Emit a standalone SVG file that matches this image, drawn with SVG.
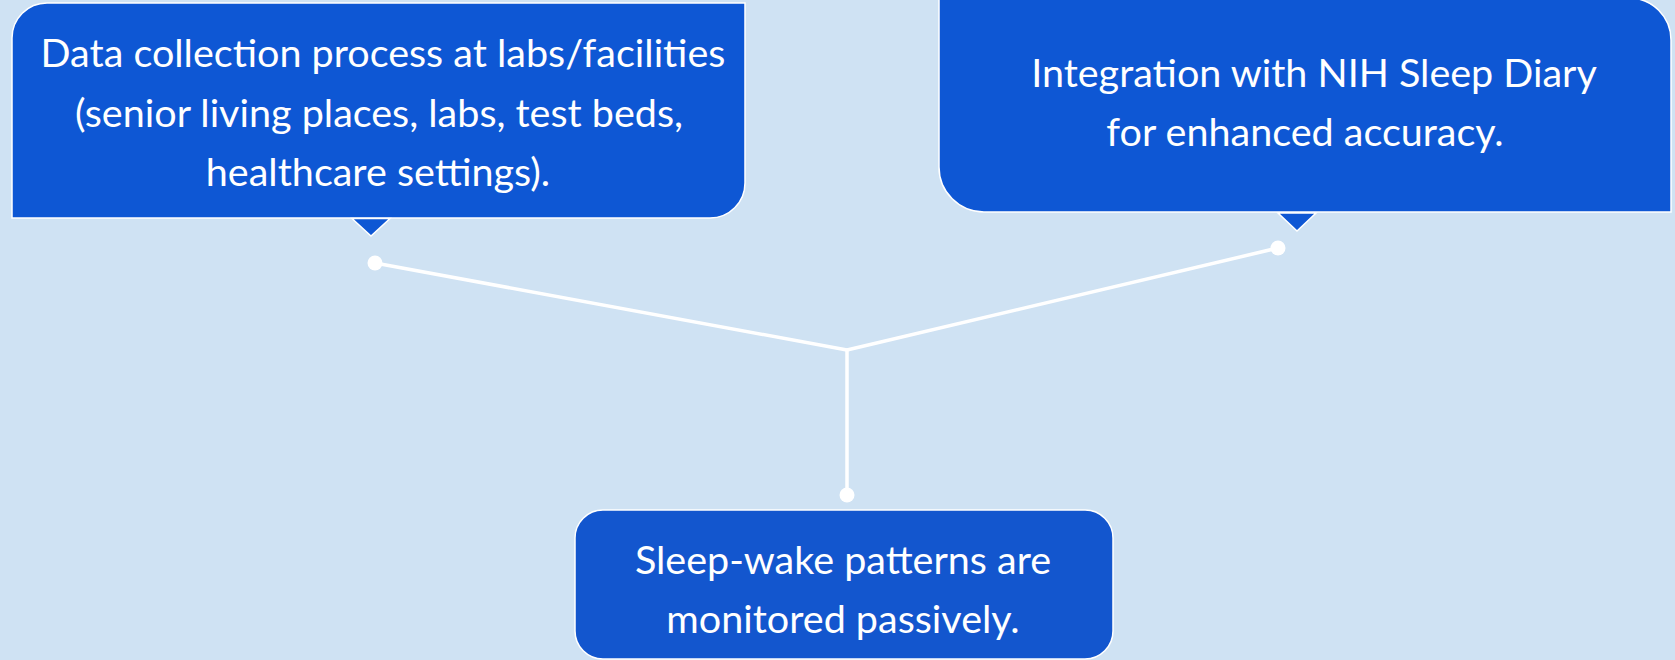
<svg xmlns="http://www.w3.org/2000/svg" width="1675" height="660" viewBox="0 0 1675 660">
  <style>
    .box { fill: #0E57D4; stroke: #FFFFFF; stroke-width: 1.5; }
    .box3 { fill: #1356CE; stroke: #FFFFFF; stroke-width: 1.5; }
    .ptr { fill: #0E57D4; stroke: #FFFFFF; stroke-width: 1.5; }
    .lbl { font-family: Lato, "Liberation Sans", sans-serif; font-size: 39.5px; fill: #FFFFFF; text-anchor: middle; }
    .conn { stroke: #FFFFFF; stroke-width: 3.5; fill: none; stroke-linecap: round; stroke-linejoin: round; }
    .dot { fill: #FFFFFF; }
  </style>
  <rect x="0" y="0" width="1675" height="660" fill="#CFE2F3"/>

  <g id="connectors">
    <polyline class="conn" points="375,263 847,350 1278,248"/>
    <line class="conn" x1="847" y1="350" x2="847" y2="495"/>
    <circle class="dot" cx="375" cy="263" r="7.5"/>
    <circle class="dot" cx="1278" cy="248" r="7.5"/>
    <circle class="dot" cx="847" cy="495" r="7.5"/>
  </g>

  <g id="node-data-collection">
    <path class="box" d="M12,218 L12,38 A35,35 0 0 1 47,3 L745,3 L745,183 A35,35 0 0 1 710,218 Z"/>
    <polygon class="ptr" points="352,218.5 390,218.5 371,236"/>
    <text class="lbl" x="383" y="67">Data collection process at labs/facilities</text>
    <text class="lbl" x="379" y="127">(senior living places, labs, test beds,</text>
    <text class="lbl" x="378" y="186">healthcare settings).</text>
  </g>

  <g id="node-nih-diary">
    <path class="box" d="M939,-2 L1629,-2 A42,42 0 0 1 1671,40 L1671,212 L984,212 A45,45 0 0 1 939,167 Z"/>
    <polygon class="ptr" points="1278,213 1316,213 1297,231"/>
    <text class="lbl" x="1314" y="87">Integration with NIH Sleep Diary</text>
    <text class="lbl" x="1305" y="146">for enhanced accuracy.</text>
  </g>

  <g id="node-sleep-wake">
    <rect class="box3" x="575" y="510" width="538" height="149" rx="28" ry="28"/>
    <text class="lbl" x="843" y="574">Sleep-wake patterns are</text>
    <text class="lbl" x="843" y="633">monitored passively.</text>
  </g>
</svg>
